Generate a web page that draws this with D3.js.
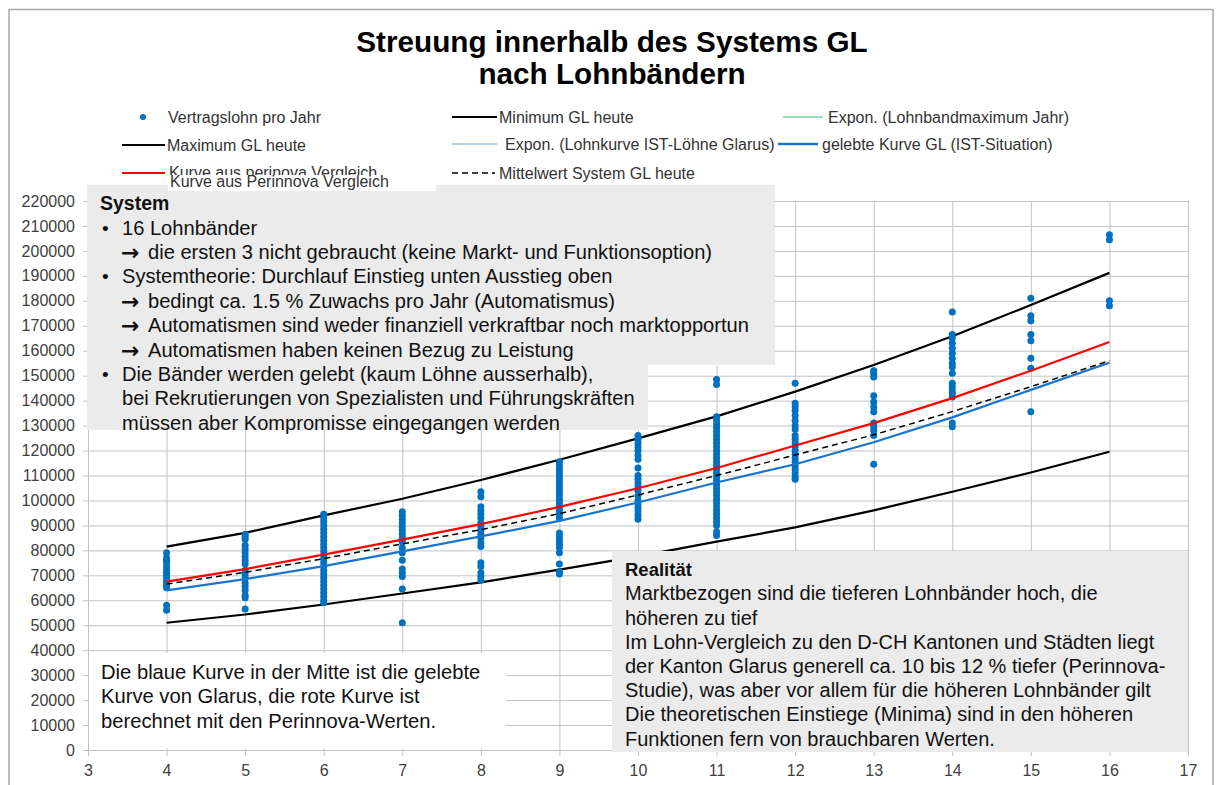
<!DOCTYPE html>
<html lang="de">
<head>
<meta charset="UTF-8">
<title>Streuung innerhalb des Systems GL</title>
<script src="https://cdn.jsdelivr.net/npm/d3@7"></script>
<style>
  body { margin: 0; background: #fff; }
  svg { display: block; font-family: "Liberation Sans", Arial, sans-serif; }
  .tick text { font-size: 16px; fill: #404040; }
</style>
</head>
<body>
<svg id="chart" width="1216" height="785"></svg>
<script>
  // Lohnbänder (x) and axis ticks
  var bands = [4, 5, 6, 7, 8, 9, 10, 11, 12, 13, 14, 15, 16];
  var xTicks = [3, 4, 5, 6, 7, 8, 9, 10, 11, 12, 13, 14, 15, 16, 17];
  var yTicks = d3.range(0, 220001, 10000);

  // curves, one value per band
  var maxGL      = [81500, 87000, 94000, 100700, 108200, 116300, 124900, 133700, 143600, 154300, 165800, 178300, 191200];
  var minGL      = [51000, 54300, 58300, 62700, 67200, 72300, 77600, 83500, 89200, 96000, 103500, 111200, 119500];
  var perinnova  = [67500, 72500, 78300, 84300, 90500, 97400, 104900, 113000, 122000, 131000, 141000, 152000, 163500];
  var gelebt     = [64000, 68500, 73700, 79600, 85600, 91800, 99200, 107200, 114500, 123300, 133300, 144300, 155200];
  var mittelwert = [66500, 71200, 76700, 82600, 88300, 94700, 102200, 110000, 118200, 126300, 135600, 145600, 156000];

  // Vertragslohn pro Jahr, per band
  var wages = [
    [79000, 77000, 76000, 75000, 73500, 72000, 71000, 70000, 69000, 68000, 67000, 66000, 65000, 58000, 56000],
    [86500, 85500, 84500, 82000, 80500, 79000, 77500, 76000, 74500, 72000, 70500, 69000, 67000, 65500, 64000, 62000, 61000, 56500],
    [94500, 93000, 91500, 90000, 88500, 87000, 85500, 84000, 82500, 81000, 79500, 78000, 76500, 75000, 73500, 72000, 70500, 69000, 67500, 66000, 64500, 63000, 61500, 60000, 59000],
    [95500, 94000, 92500, 91000, 89500, 88000, 86500, 85000, 83500, 81000, 79000, 76000, 72500, 71000, 69500, 64500, 51000],
    [103500, 101500, 97500, 96000, 94500, 93000, 91000, 89500, 88000, 86500, 85000, 83000, 81500, 75000, 73500, 71000, 69500, 68000],
    [115500, 114000, 112500, 111000, 109500, 108000, 106500, 105000, 103500, 102000, 100500, 99000, 97500, 96000, 94500, 93000, 87000, 85500, 84000, 82500, 81000, 79000, 74500, 71500, 70500],
    [126000, 124500, 123000, 121500, 120000, 118000, 116500, 113000, 110000, 108500, 107000, 105500, 104000, 102000, 100000, 98500, 97000, 95500, 94000, 92500],
    [148500, 146500, 133500, 132000, 130500, 129000, 127500, 126000, 124500, 123000, 121500, 120000, 118500, 117000, 115500, 114000, 112500, 111000, 109500, 108000, 106500, 105000, 103500, 102000, 100500, 99000, 97500, 96000, 94500, 93000, 91500, 90000, 87500, 86000],
    [147000, 139000, 137500, 136000, 134000, 132000, 130000, 128500, 126000, 124500, 123000, 121500, 120000, 118500, 117000, 115500, 114000, 112500, 111000, 109500, 108500],
    [152000, 151000, 149500, 142000, 139500, 137500, 135500, 131000, 129500, 128000, 126000, 114500],
    [175500, 166500, 165000, 163000, 161000, 159000, 157000, 155000, 153500, 151000, 147000, 145500, 144000, 143000, 141500, 131000, 129500],
    [181000, 174000, 172000, 166500, 164000, 157000, 153000, 135500],
    [206500, 204500, 180000, 178000]
  ];

  var systemLines = [
    { bullet: "•", text: "16 Lohnbänder" },
    { arrow: true, text: "die ersten 3 nicht gebraucht (keine Markt- und Funktionsoption)" },
    { bullet: "•", text: "Systemtheorie: Durchlauf Einstieg unten Ausstieg oben" },
    { arrow: true, text: "bedingt ca. 1.5 % Zuwachs pro Jahr (Automatismus)" },
    { arrow: true, text: "Automatismen sind weder finanziell verkraftbar noch marktopportun" },
    { arrow: true, text: "Automatismen haben keinen Bezug zu Leistung" },
    { bullet: "•", text: "Die Bänder werden gelebt (kaum Löhne ausserhalb)," },
    { text: "bei Rekrutierungen von Spezialisten und Führungskräften" },
    { text: "müssen aber Kompromisse eingegangen werden" }
  ];
  var realitaetLines = [
    "Marktbezogen sind die tieferen Lohnbänder hoch, die",
    "höheren zu tief",
    "Im Lohn-Vergleich zu den D-CH Kantonen und Städten liegt",
    "der Kanton Glarus generell ca. 10 bis 12 % tiefer (Perinnova-",
    "Studie), was aber vor allem für die höheren Lohnbänder gilt",
    "Die theoretischen Einstiege (Minima) sind in den höheren",
    "Funktionen fern von brauchbaren Werten."
  ];
  var noteLines = [
    "Die blaue Kurve in der Mitte ist die gelebte",
    "Kurve von Glarus, die rote Kurve ist",
    "berechnet mit den Perinnova-Werten."
  ];

  var svg = d3.select("#chart");
  var x = d3.scaleLinear().domain([3, 17]).range([88, 1188]);
  var y = d3.scaleLinear().domain([0, 220000]).range([750, 201]);
  var gridColor = "#c3c3c3";

  // frame
  svg.append("rect").attr("x", 9).attr("y", 9.5).attr("width", 1204).attr("height", 800)
    .attr("fill", "#fff").attr("stroke", "#a8a8a8").attr("stroke-width", 1.5);

  // grid
  var gx = svg.append("g").attr("transform", "translate(0,750)")
    .call(d3.axisBottom(x).tickValues(xTicks).tickSize(-549).tickFormat(""));
  var gy = svg.append("g").attr("transform", "translate(88,0)")
    .call(d3.axisLeft(y).tickValues(yTicks).tickSize(-1100).tickFormat(""));
  [gx, gy].forEach(function (g) {
    g.select(".domain").remove();
    g.selectAll("line").attr("stroke", gridColor);
  });

  // axes
  var ax = svg.append("g").attr("transform", "translate(0,750)")
    .call(d3.axisBottom(x).tickValues(xTicks).tickSize(6).tickPadding(9));
  var ay = svg.append("g").attr("transform", "translate(88,0)")
    .call(d3.axisLeft(y).tickValues(yTicks).tickSize(5).tickPadding(8).tickFormat(d3.format("d")));
  [ax, ay].forEach(function (g) {
    g.select(".domain").attr("stroke", gridColor);
    g.selectAll(".tick line").attr("stroke", gridColor);
    g.selectAll("text").attr("font-family", "Liberation Sans, Arial, sans-serif");
  });

  // curves
  var line = d3.line().x(function (d, i) { return x(bands[i]); }).y(function (d) { return y(d); });
  function drawCurve(data, color, width, dash) {
    svg.append("path").datum(data).attr("d", line)
      .attr("fill", "none").attr("stroke", color).attr("stroke-width", width)
      .attr("stroke-dasharray", dash || null);
  }
  drawCurve(maxGL, "#000", 2.2);
  drawCurve(minGL, "#000", 2.2);

  // dots
  var points = [];
  wages.forEach(function (col, i) {
    col.forEach(function (v) { points.push({ band: bands[i], value: v }); });
  });
  svg.append("g").selectAll("circle").data(points).enter().append("circle")
    .attr("cx", function (d) { return x(d.band); })
    .attr("cy", function (d) { return y(d.value); })
    .attr("r", 3.5).attr("fill", "#0070c0");

  drawCurve(gelebt, "#1a74cc", 2.2);
  drawCurve(mittelwert, "#000", 1.5, "6,4");
  drawCurve(perinnova, "#ff0000", 2.2);

  // System box
  svg.append("path")
    .attr("d", "M87,185H775V365H648V430H87Z")
    .attr("fill", "#ebebeb");
  svg.append("text").attr("x", 100).attr("y", 210)
    .attr("font-size", 19.5).attr("font-weight", "bold").attr("fill", "#111").text("System");
  systemLines.forEach(function (l, i) {
    var by = 234.5 + i * 24.4;
    if (l.bullet) svg.append("text").attr("x", 102).attr("y", by).attr("font-size", 19).attr("fill", "#111").text(l.bullet);
    var tx = 122;
    if (l.arrow) {
      svg.append("text").attr("x", 121).attr("y", by + 1).attr("font-size", 22).attr("font-weight", "bold")
        .attr("font-family", "DejaVu Sans, sans-serif").attr("fill", "#111").text("→");
      tx = 148;
    }
    svg.append("text").attr("x", tx).attr("y", by).attr("font-size", 20.1).attr("fill", "#111").text(l.text);
  });

  // Realität box
  svg.append("rect").attr("x", 612).attr("y", 551).attr("width", 576).attr("height", 201).attr("fill", "#ebebeb");
  svg.append("text").attr("x", 625).attr("y", 576)
    .attr("font-size", 18.5).attr("font-weight", "bold").attr("fill", "#111").text("Realität");
  realitaetLines.forEach(function (t, i) {
    svg.append("text").attr("x", 625).attr("y", 600.3 + i * 24.2)
      .attr("font-size", 20).attr("fill", "#111").text(t);
  });

  // note box bottom left
  svg.append("rect").attr("x", 89).attr("y", 653).attr("width", 417).attr("height", 95).attr("fill", "#fff");
  noteLines.forEach(function (t, i) {
    svg.append("text").attr("x", 101).attr("y", 679 + i * 24.3)
      .attr("font-size", 20.2).attr("fill", "#111").text(t);
  });

  // legend
  var lg = svg.append("g").attr("font-size", 16).attr("fill", "#333");
  function legLine(x1, x2, yy, color, width, dash) {
    lg.append("line").attr("x1", x1).attr("x2", x2).attr("y1", yy).attr("y2", yy)
      .attr("stroke", color).attr("stroke-width", width).attr("stroke-dasharray", dash || null);
  }
  function legText(xx, yy, t) {
    lg.append("text").attr("x", xx).attr("y", yy + 5.5).text(t);
  }
  lg.append("circle").attr("cx", 143).attr("cy", 117).attr("r", 3).attr("fill", "#0070c0");
  legText(168, 117, "Vertragslohn pro Jahr");
  legLine(122, 165, 145, "#000", 2.2);
  legText(167, 145, "Maximum GL heute");
  legLine(122, 165, 173, "#ff0000", 2.2);
  legText(169, 172, "Kurve aus perinova Vergleich");
  lg.append("rect").attr("x", 168).attr("y", 175).attr("width", 268).attr("height", 16).attr("fill", "#fff");
  legText(170, 181, "Kurve aus Perinnova Vergleich");

  legLine(452, 497, 117, "#000", 2.2);
  legText(499, 117, "Minimum GL heute");
  legLine(452, 497, 144, "#9dc3e6", 1.5);
  legText(505, 144, "Expon. (Lohnkurve IST-Löhne Glarus)");
  legLine(452, 495, 173, "#000", 1.5, "6,4");
  legText(499, 173, "Mittelwert System GL heute");

  legLine(783, 823, 117, "#7fd1a6", 1.5);
  legText(828, 117, "Expon. (Lohnbandmaximum Jahr)");
  legLine(778, 818, 144, "#1a74cc", 2.5);
  legText(822, 144, "gelebte Kurve GL (IST-Situation)");

  // title
  var title = svg.append("text").attr("text-anchor", "middle").attr("font-weight", "bold")
    .attr("font-size", 29.7).attr("fill", "#000");
  title.append("tspan").attr("x", 612).attr("y", 52).text("Streuung innerhalb des Systems GL");
  title.append("tspan").attr("x", 612).attr("y", 84).text("nach Lohnbändern");
</script>
</body>
</html>
